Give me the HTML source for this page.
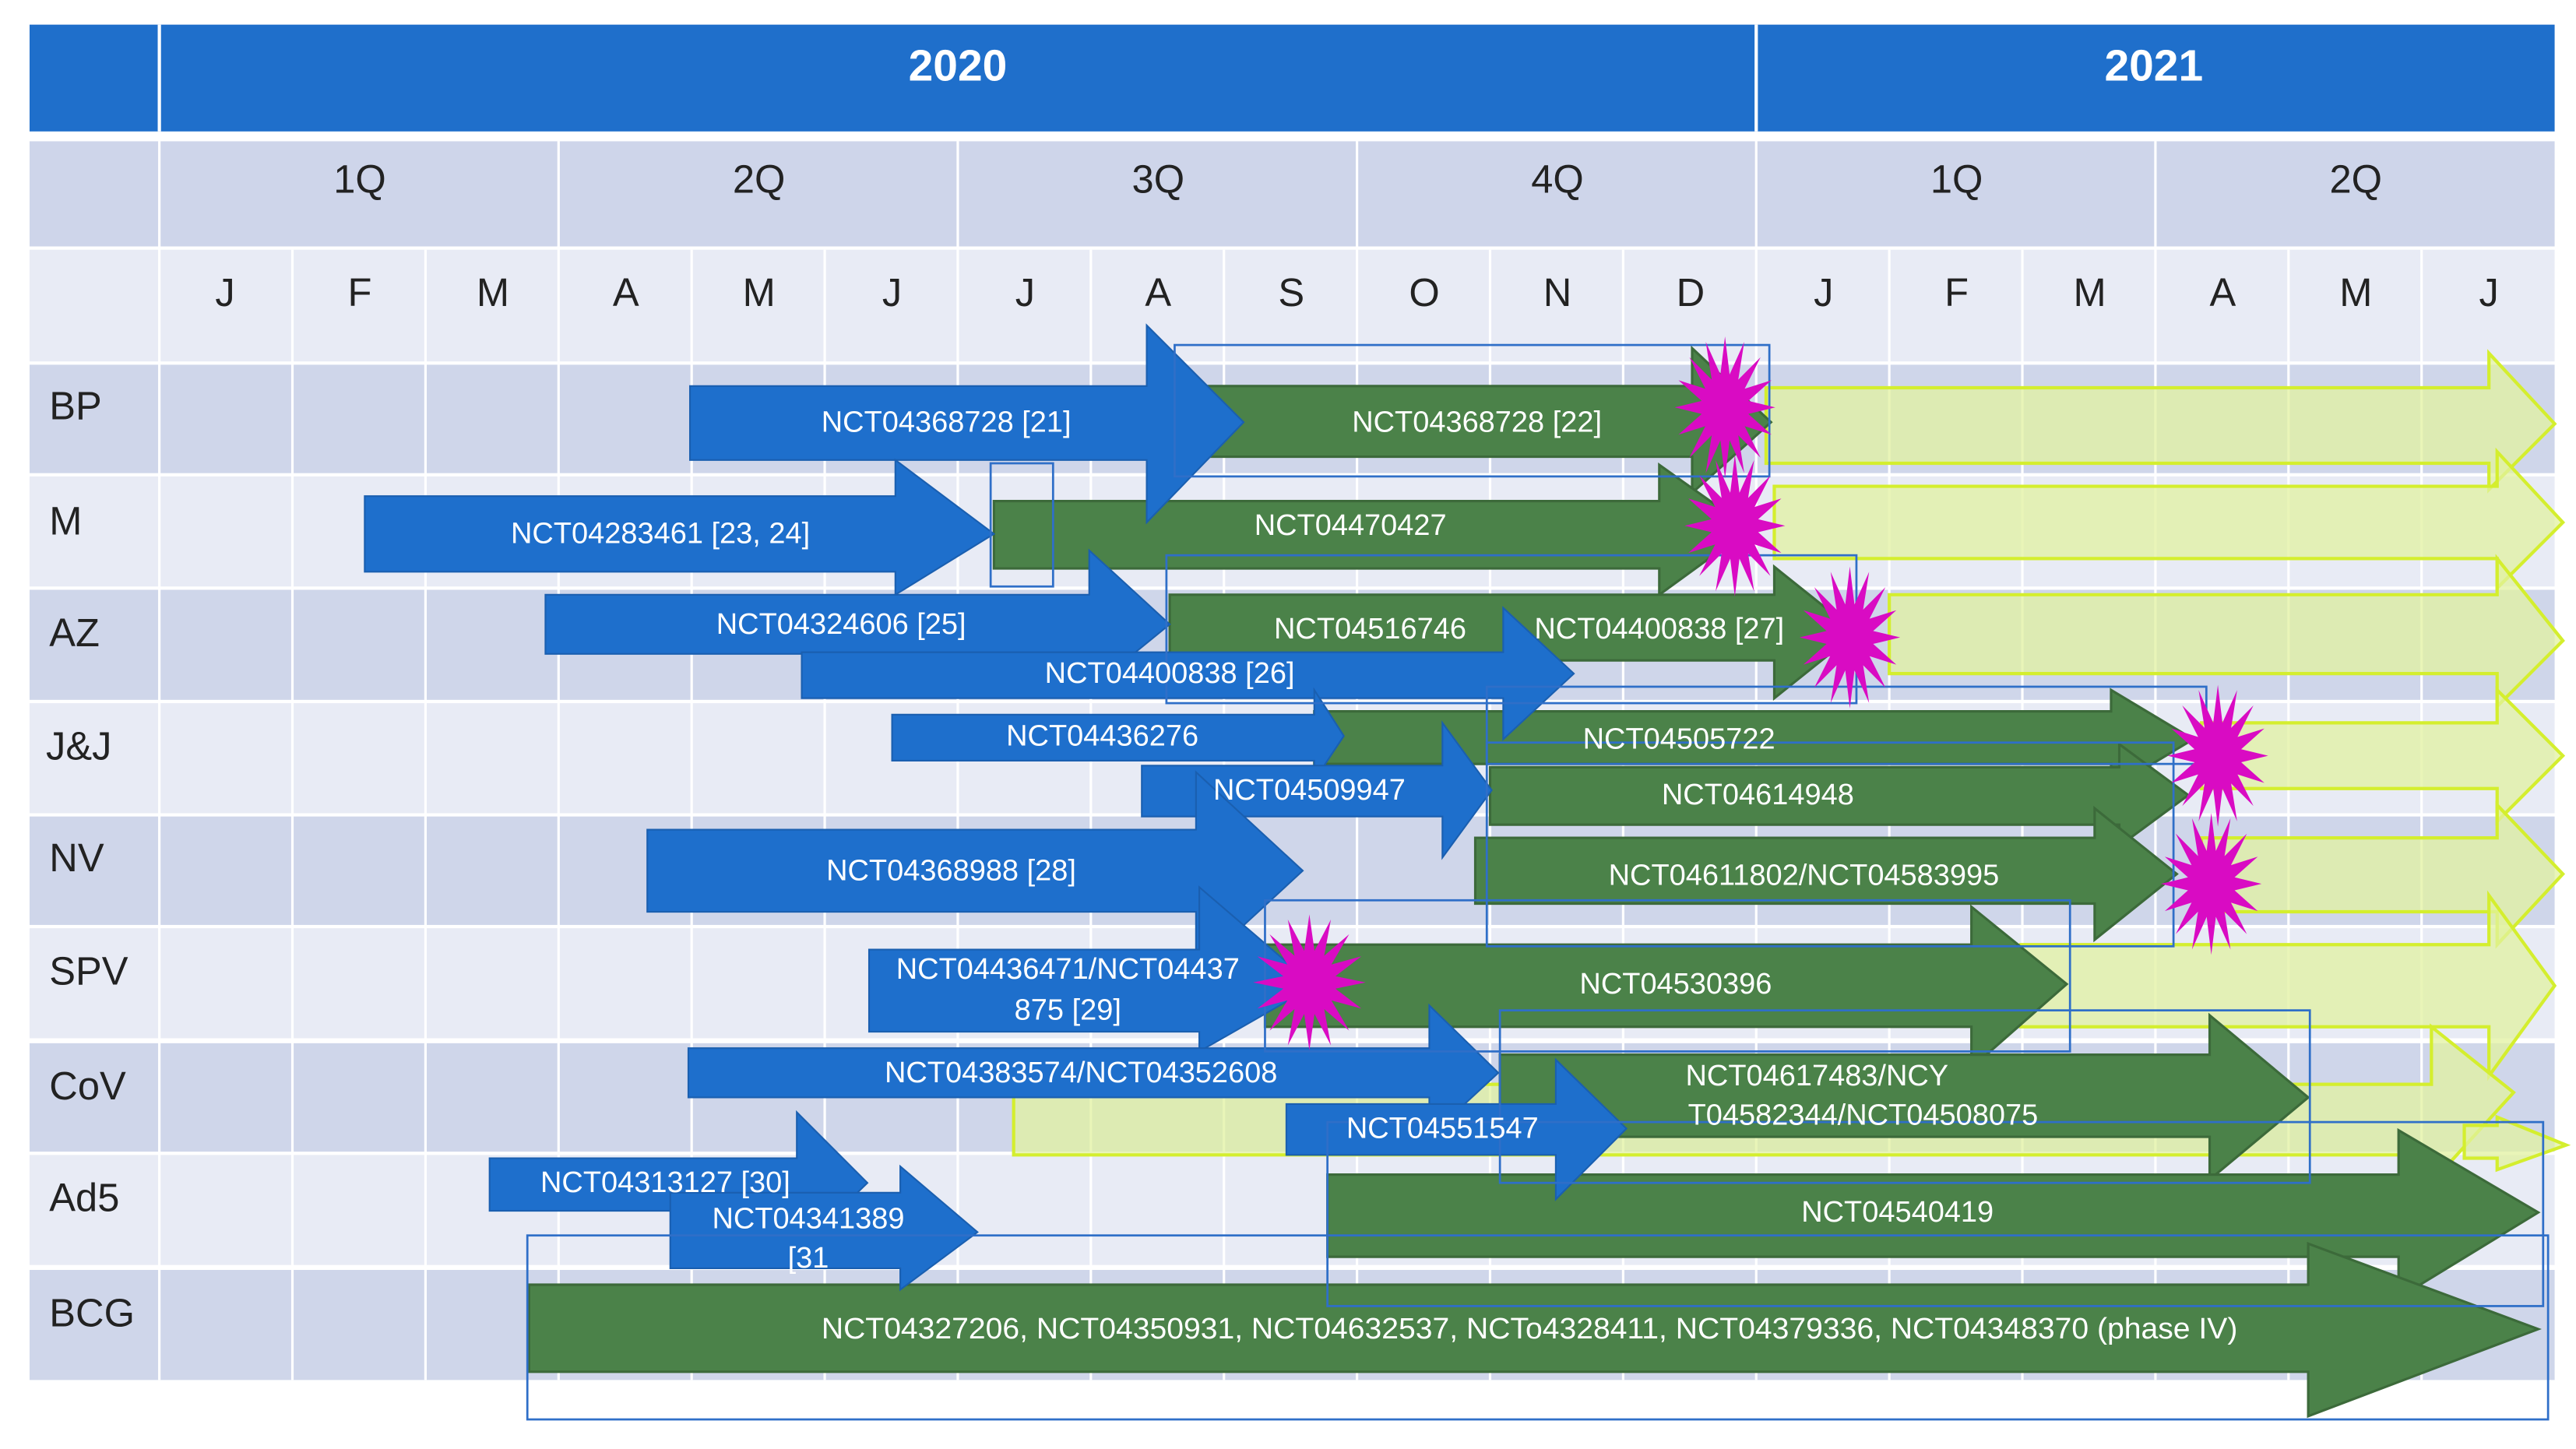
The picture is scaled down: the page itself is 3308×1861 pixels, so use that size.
<!DOCTYPE html>
<html><head><meta charset="utf-8"><style>
html,body{margin:0;padding:0;background:#fff;}
svg{display:block;}
text{font-family:"Liberation Sans",sans-serif;}
.w{fill:#fff;font-size:18px;text-anchor:middle;dominant-baseline:central;}
.h{fill:#222;font-size:24px;text-anchor:middle;dominant-baseline:central;}
.l{fill:#222;font-size:24px;dominant-baseline:central;}
.b{fill:#1E6FCC;stroke:#1A5FB0;stroke-width:1;}
.g{fill:#4B8249;stroke:#3C6A3A;stroke-width:1.5;}
.y{fill:#E2F2A0;fill-opacity:.75;stroke:#D4EE2E;stroke-width:2;}
.o{fill:none;stroke:#2F6FC8;stroke-width:1.3;}
.s{fill:#D90BC3;}
</style></head><body>
<svg width="3308" height="1861" viewBox="0 0 1568 882" preserveAspectRatio="none" xmlns="http://www.w3.org/2000/svg">
<defs>
<polygon id="st" points="36,0 16.7,3.3 33.3,13.8 14.1,9.5 25.5,25.5 9.5,14.1 13.8,33.3 3.3,16.7 0,36 -3.3,16.7 -13.8,33.3 -9.5,14.1 -25.5,25.5 -14.1,9.5 -33.3,13.8 -16.7,3.3 -36,0 -16.7,-3.3 -33.3,-13.8 -14.1,-9.5 -25.5,-25.5 -9.5,-14.1 -13.8,-33.3 -3.3,-16.7 0,-36 3.3,-16.7 13.8,-33.3 9.5,-14.1 25.5,-25.5 14.1,-9.5 33.3,-13.8 16.7,-3.3"/>
</defs>
<rect width="1568" height="882" fill="#fff"/>
<rect x="18" y="15" width="1537" height="65" fill="#1F6FCB"/>
<rect x="96" y="15" width="2" height="65" fill="#fff"/>
<rect x="1068" y="15" width="2" height="65" fill="#fff"/>
<text x="583" y="40" fill="#fff" font-size="27" font-weight="bold" text-anchor="middle" dominant-baseline="central">2020</text>
<text x="1311" y="40" fill="#fff" font-size="27" font-weight="bold" text-anchor="middle" dominant-baseline="central">2021</text>
<rect x="18" y="86" width="1537" height="64" fill="#CED5EA"/>
<rect x="18" y="152" width="1537" height="68" fill="#E8EBF5"/>
<rect x="18" y="222" width="1537" height="66" fill="#CFD6EA"/>
<rect x="18" y="290" width="1537" height="67" fill="#E8EBF5"/>
<rect x="18" y="359" width="1537" height="67" fill="#CFD6EA"/>
<rect x="18" y="428" width="1537" height="67" fill="#E8EBF5"/>
<rect x="18" y="497" width="1537" height="66" fill="#CFD6EA"/>
<rect x="18" y="565" width="1537" height="67" fill="#E8EBF5"/>
<rect x="18" y="635" width="1537" height="66" fill="#CFD6EA"/>
<rect x="18" y="703" width="1537" height="67" fill="#E8EBF5"/>
<rect x="18" y="773" width="1537" height="67" fill="#CFD6EA"/>
<g stroke="#fff" stroke-width="1.5">
<line x1="97" y1="86" x2="97" y2="840"/>
<line x1="340" y1="86" x2="340" y2="840"/><line x1="583" y1="86" x2="583" y2="840"/>
<line x1="826" y1="86" x2="826" y2="840"/><line x1="1069" y1="86" x2="1069" y2="840"/>
<line x1="1312" y1="86" x2="1312" y2="840"/>
<line x1="178" y1="152" x2="178" y2="840"/><line x1="259" y1="152" x2="259" y2="840"/>
<line x1="421" y1="152" x2="421" y2="840"/><line x1="502" y1="152" x2="502" y2="840"/>
<line x1="664" y1="152" x2="664" y2="840"/><line x1="745" y1="152" x2="745" y2="840"/>
<line x1="907" y1="152" x2="907" y2="840"/><line x1="988" y1="152" x2="988" y2="840"/>
<line x1="1150" y1="152" x2="1150" y2="840"/><line x1="1231" y1="152" x2="1231" y2="840"/>
<line x1="1393" y1="152" x2="1393" y2="840"/><line x1="1474" y1="152" x2="1474" y2="840"/>
</g>
<text class="h" x="219" y="109">1Q</text><text class="h" x="462" y="109">2Q</text>
<text class="h" x="705" y="109">3Q</text><text class="h" x="948" y="109">4Q</text>
<text class="h" x="1191" y="109">1Q</text><text class="h" x="1434" y="109">2Q</text>
<text class="h" x="137" y="178">J</text><text class="h" x="219" y="178">F</text><text class="h" x="300" y="178">M</text>
<text class="h" x="381" y="178">A</text><text class="h" x="462" y="178">M</text><text class="h" x="543" y="178">J</text>
<text class="h" x="624" y="178">J</text><text class="h" x="705" y="178">A</text><text class="h" x="786" y="178">S</text>
<text class="h" x="867" y="178">O</text><text class="h" x="948" y="178">N</text><text class="h" x="1029" y="178">D</text>
<text class="h" x="1110" y="178">J</text><text class="h" x="1191" y="178">F</text><text class="h" x="1272" y="178">M</text>
<text class="h" x="1353" y="178">A</text><text class="h" x="1434" y="178">M</text><text class="h" x="1515" y="178">J</text>
<text class="l" x="30" y="247">BP</text><text class="l" x="30" y="317">M</text>
<text class="l" x="30" y="385">AZ</text><text class="l" x="28" y="454">J&amp;J</text>
<text class="l" x="30" y="522">NV</text><text class="l" x="30" y="591">SPV</text>
<text class="l" x="30" y="661">CoV</text><text class="l" x="30" y="729">Ad5</text>
<text class="l" x="30" y="799">BCG</text>

<polygon class="y" points="1075,236 1515,236 1515,215 1555,258 1515,298 1515,282 1075,282"/>
<polygon class="y" points="1080,296 1520,296 1520,275 1560,318 1520,358 1520,340 1080,340"/>
<polygon class="y" points="1150,362 1520,362 1520,340 1560,390 1520,430 1520,410 1150,410"/>
<polygon class="y" points="1340,440 1520,440 1520,420 1560,460 1520,500 1520,480 1340,480"/>
<polygon class="y" points="1340,510 1520,510 1520,490 1560,532 1520,575 1520,555 1340,555"/>
<polygon class="y" points="1230,575 1515,575 1515,545 1555,600 1515,655 1515,625 1230,625"/>
<polygon class="y" points="617,660 1480,660 1480,625 1530,665 1480,720 1480,703 617,703"/>
<polygon class="y" points="1500,685 1520,685 1520,680 1562,697 1520,712 1520,705 1500,705"/>

<polygon class="g" points="735,235 1030,235 1030,212 1078,257 1030,300 1030,278 735,278"/>
<polygon class="g" points="605,305 1010,305 1010,283 1065,322 1010,362 1010,346 605,346"/>
<polygon class="g" points="712,362 1080,362 1080,345 1130,385 1080,425 1080,402 712,402"/>
<polygon class="g" points="800,433 1285,433 1285,420 1335,450 1285,480 1285,465 800,465"/>
<polygon class="g" points="907,467 1290,467 1290,453 1332,484 1290,515 1290,502 907,502"/>
<polygon class="g" points="898,510 1275,510 1275,492 1325,532 1275,572 1275,550 898,550"/>
<polygon class="g" points="770,575 1200,575 1200,552 1258,599 1200,650 1200,625 770,625"/>
<polygon class="g" points="913,642 1345,642 1345,618 1405,668 1345,718 1345,692 913,692"/>
<polygon class="g" points="808,715 1460,715 1460,688 1545,738 1460,790 1460,765 808,765"/>
<polygon class="g" points="322,782 1405,782 1405,757 1545,809 1405,862 1405,835 322,835"/>

<polygon class="b" points="420,235 698,235 698,198 757,257 698,318 698,280 420,280"/>
<polygon class="b" points="222,302 545,302 545,280 605,325 545,362 545,348 222,348"/>
<polygon class="b" points="332,362 663,362 663,335 712,380 663,420 663,398 332,398"/>
<polygon class="b" points="488,397 915,397 915,370 958,410 915,450 915,425 488,425"/>
<polygon class="b" points="543,435 800,435 800,420 818,448 800,475 800,463 543,463"/>
<polygon class="b" points="695,466 878,466 878,440 908,481 878,522 878,497 695,497"/>
<polygon class="b" points="394,505 728,505 728,470 793,530 728,590 728,555 394,555"/>
<polygon class="b" points="529,578 730,578 730,540 800,600 730,640 730,628 529,628"/>
<polygon class="b" points="419,638 870,638 870,612 912,653 870,692 870,668 419,668"/>
<polygon class="b" points="783,672 947,672 947,645 990,687 947,730 947,703 783,703"/>
<polygon class="b" points="298,705 485,705 485,677 528,720 485,762 485,737 298,737"/>
<polygon class="b" points="408,726 548,726 548,710 595,750 548,785 548,772 408,772"/>

<rect class="o" x="715" y="210" width="362" height="80"/>
<rect class="o" x="603" y="282" width="38" height="75"/>
<rect class="o" x="710" y="338" width="420" height="90"/>
<rect class="o" x="905" y="418" width="438" height="47"/>
<rect class="o" x="905" y="452" width="418" height="124"/>
<rect class="o" x="770" y="548" width="490" height="92"/>
<rect class="o" x="913" y="615" width="493" height="105"/>
<rect class="o" x="808" y="683" width="740" height="112"/>
<rect class="o" x="321" y="752" width="1230" height="112"/>

<use href="#st" class="s" transform="translate(1050,248) scale(0.85,1.2)"/>
<use href="#st" class="s" transform="translate(1056,320) scale(0.85,1.2)"/>
<use href="#st" class="s" transform="translate(1126,388) scale(0.85,1.2)"/>
<use href="#st" class="s" transform="translate(1350,460) scale(0.85,1.2)"/>
<use href="#st" class="s" transform="translate(1346,538) scale(0.85,1.2)"/>
<use href="#st" class="s" transform="translate(797,598) scale(0.95,1.15)"/>

<text class="w" x="576" y="257">NCT04368728 [21]</text>
<text class="w" x="899" y="257">NCT04368728 [22]</text>
<text class="w" x="402" y="325">NCT04283461 [23, 24]</text>
<text class="w" x="822" y="320">NCT04470427</text>
<text class="w" x="512" y="380">NCT04324606 [25]</text>
<text class="w" x="834" y="383">NCT04516746</text>
<text class="w" x="1010" y="383">NCT04400838 [27]</text>
<text class="w" x="712" y="410">NCT04400838 [26]</text>
<text class="w" x="671" y="448">NCT04436276</text>
<text class="w" x="1022" y="450">NCT04505722</text>
<text class="w" x="797" y="481">NCT04509947</text>
<text class="w" x="1070" y="484">NCT04614948</text>
<text class="w" x="579" y="530">NCT04368988 [28]</text>
<text class="w" x="1098" y="533">NCT04611802/NCT04583995</text>
<text class="w" x="650" y="590">NCT04436471/NCT04437</text>
<text class="w" x="650" y="615">875 [29]</text>
<text class="w" x="1020" y="599">NCT04530396</text>
<text class="w" x="658" y="653">NCT04383574/NCT04352608</text>
<text class="w" x="1106" y="655">NCT04617483/NCY</text>
<text class="w" x="1134" y="679">T04582344/NCT04508075</text>
<text class="w" x="878" y="687">NCT04551547</text>
<text class="w" x="405" y="720">NCT04313127 [30]</text>
<text class="w" x="492" y="742">NCT04341389</text>
<text class="w" x="492" y="766">[31</text>
<text class="w" x="1155" y="738">NCT04540419</text>
<text class="w" x="931" y="809" textLength="862" lengthAdjust="spacingAndGlyphs">NCT04327206, NCT04350931, NCT04632537, NCTo4328411, NCT04379336, NCT04348370 (phase IV)</text>
</svg>
</body></html>
